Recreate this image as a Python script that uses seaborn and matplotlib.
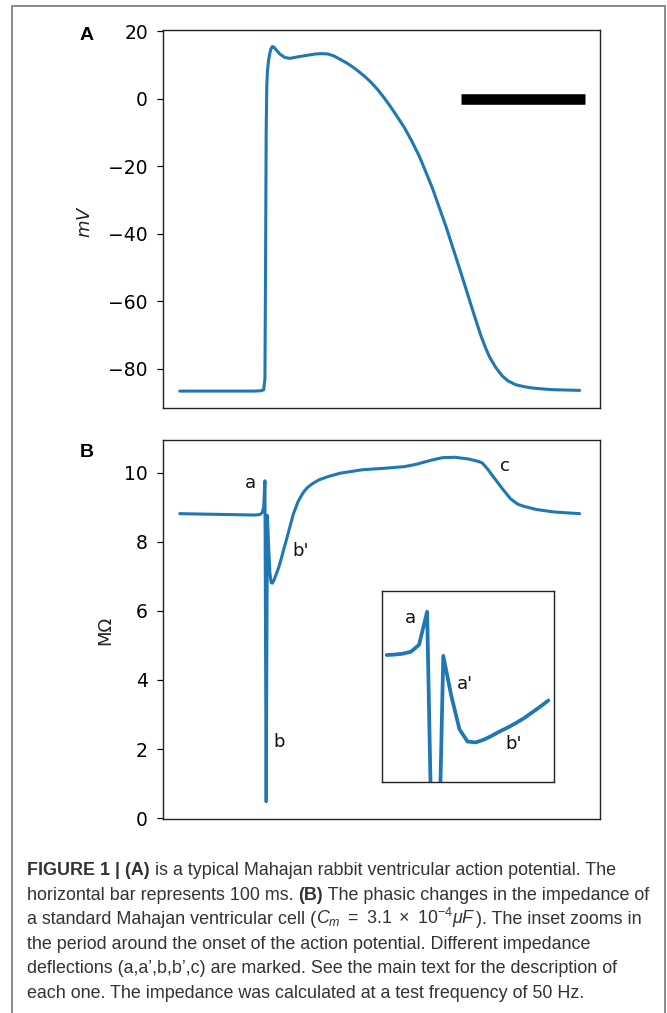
import numpy as np
import pandas as pd
import matplotlib
matplotlib.use("Agg")
import matplotlib.pyplot as plt
import seaborn as sns
from matplotlib.patches import Rectangle

# ---------------- data ----------------
# Panel A: action potential (ms, mV)
ap_time = [0, 30, 60, 66, 68, 69, 69.5, 70, 70.5, 71, 72, 73, 74, 75, 76, 78, 81, 85, 89,
           95, 103, 110, 115, 120, 125, 130, 135, 140, 145, 150, 155, 160, 165, 170, 175, 182,
           188, 194, 199, 205, 210, 216, 222, 228, 234, 239, 244, 248, 251, 256, 261, 266,
           272, 279, 286, 295, 303, 314, 324]
ap_mv = [-86.6, -86.6, -86.6, -86.5, -86.2, -83.0, -50.0, -10.0, 4.0, 8.0, 11.5, 13.5, 14.8,
         15.4, 15.3, 14.5, 13.2, 12.2, 11.9, 12.3, 12.8, 13.2, 13.3, 13.2, 12.6, 11.6, 10.6,
         9.4, 8.0, 6.5, 4.8, 2.8, 0.5, -2.0, -4.7, -8.6, -12.6, -17.0, -21.4, -26.8, -32.0,
         -38.2, -45.0, -51.8, -58.8, -64.6, -70.2, -74.0, -76.5, -79.6, -82.0, -83.6, -84.7,
         -85.3, -85.7, -86.0, -86.2, -86.3, -86.4]

# scale bar (100 ms) drawn at 0 mV
scalebar_time = [228, 328]
scalebar_mv = [0, 0]

# Panel B: impedance (ms, MOhm)
imp_time = [0, 30, 61,
            64, 65, 66, 67, 68, 69, 70, 71, 72, 73, 74, 75, 76, 77, 78, 79, 80, 81, 82, 83, 84,
            86, 89, 92, 96, 100, 103, 106, 109, 113, 120, 130, 148, 165, 182, 192, 203, 213,
            223, 234, 241, 245, 249, 254, 261, 268, 274, 279, 289, 303, 315, 324]
imp_mohm = [8.81, 8.79, 8.77,
            8.78, 8.79, 8.81, 8.855, 9.01, 9.76, 0.48, 8.76, 7.85, 7.10, 6.82, 6.80, 6.86, 6.95,
            7.05, 7.14, 7.24, 7.35, 7.48, 7.61, 7.75,
            8.0, 8.40, 8.8, 9.17, 9.42, 9.55, 9.64, 9.71, 9.79, 9.88, 9.98, 10.08, 10.12, 10.17,
            10.24, 10.35, 10.43, 10.44, 10.39, 10.33, 10.28, 10.12, 9.88, 9.55, 9.24, 9.08,
            9.02, 8.93, 8.86, 8.83, 8.81]

inset_window = [64, 84]

ap_ticks = [20, 0, -20, -40, -60, -80]
imp_ticks = [0, 2, 4, 6, 8, 10]

main_labels = [("a", 56.9, 9.69), ("b'", 97.6, 7.72), ("b", 80.3, 2.2), ("c", 263.7, 10.2)]
inset_labels = [("a", 66.9, 9.61), ("a'", 73.7, 8.12), ("b'", 79.75, 6.76)]

caption_lines = [
    [("FIGURE 1 | (A)", "bold"), (" is a typical Mahajan rabbit ventricular action potential. The", "normal")],
    [("horizontal bar represents 100 ms. ", "normal"), ("(B)", "bold"), (" The phasic changes in the impedance of", "normal")],
    [("a standard Mahajan ventricular cell (", "normal"), (r"$C_m\ =\ 3.1\ \times\ 10^{-4}\mu F$", "normal"), ("). The inset zooms in", "normal")],
    [("the period around the onset of the action potential. Different impedance", "normal")],
    [("deflections (a,a\u2019,b,b\u2019,c) are marked. See the main text for the description of", "normal")],
    [("each one. The impedance was calculated at a test frequency of 50 Hz.", "normal")],
]

# ---------------- style ----------------
sns.set_theme(style="ticks")
plt.rcParams["font.family"] = ["DejaVu Sans"]
plt.rcParams["mathtext.fontset"] = "custom"
plt.rcParams["mathtext.rm"] = "Liberation Sans"
plt.rcParams["mathtext.it"] = "Liberation Sans:italic"
plt.rcParams["mathtext.bf"] = "Liberation Sans:bold"

W, H = 667, 1013
fig = plt.figure(figsize=(W / 100, H / 100), dpi=100)
fig.patch.set_facecolor("white")

BLUE = "#1f77b4"
TICK_FS = 13.5


def ax_rect(x0, y0, x1, y1):
    return [x0 / W, 1 - y1 / H, (x1 - x0) / W, (y1 - y0) / H]


def style_axes(ax, ticks, fs=TICK_FS):
    ax.set_xticks([])
    ax.set_yticks(ticks)
    ax.tick_params(axis="y", labelsize=fs, length=4.5, width=0.9, colors="black",
                   direction="out", pad=6)
    for s in ax.spines.values():
        s.set_visible(True)
        s.set_color("#222222")
        s.set_linewidth(1.0)
    ax.set_xlabel("")
    ax.set_ylabel("")
    ax.set_facecolor("white")


xlim = (-14, 340.5)

# Panel A
axA = fig.add_axes(ax_rect(162.5, 30, 600, 408.3))
dfA = pd.DataFrame({"t": ap_time, "v": ap_mv})
sns.lineplot(data=dfA, x="t", y="v", ax=axA, color=BLUE, linewidth=2.2, sort=False)
axA.plot(scalebar_time, scalebar_mv, color="black", linewidth=7.6, solid_capstyle="butt")
axA.set_xlim(*xlim)
axA.set_ylim(-91.7, 20.3)
style_axes(axA, ap_ticks)

# Panel B
axB = fig.add_axes(ax_rect(162.5, 440, 600, 819))
dfB = pd.DataFrame({"t": imp_time, "z": imp_mohm})
sns.lineplot(data=dfB, x="t", y="z", ax=axB, color=BLUE, linewidth=2.2, sort=False)
axB.set_xlim(*xlim)
axB.set_ylim(-0.02, 10.94)
style_axes(axB, imp_ticks)
for txt, x, y in main_labels:
    axB.text(x, y, txt, fontsize=13, ha="center", va="center", color="#111111")

# Inset
axI = fig.add_axes(ax_rect(381.7, 591, 554.3, 781.7))
dfI = dfB[(dfB["t"] >= inset_window[0]) & (dfB["t"] <= inset_window[1])]
sns.lineplot(data=dfI, x="t", y="z", ax=axI, color=BLUE, linewidth=2.7, sort=False)
axI.set_xlim(63.38, 84.74)
axI.set_ylim(5.91, 10.23)
style_axes(axI, [])
for txt, x, y in inset_labels:
    axI.text(x, y, txt, fontsize=13, ha="center", va="center", color="#111111")

# axis labels and panel letters
fig.text(85 / W, 1 - 222 / H, "$mV$", rotation=90, ha="center", va="center",
         fontsize=13, math_fontfamily="dejavusans", color="#222222")
fig.text(105 / W, 1 - 630 / H, "M\u03a9", rotation=90, ha="center", va="center",
         fontsize=13, color="#222222")
fig.text(87 / W, 1 - 40 / H, "A", ha="center", va="baseline", fontsize=14,
         fontweight="bold", family=["Liberation Sans"], color="black")
fig.text(87 / W, 1 - 457 / H, "B", ha="center", va="baseline", fontsize=14,
         fontweight="bold", family=["Liberation Sans"], color="black")

# outer frame
fig.patches.append(Rectangle((12 / W, -0.02), (665 - 12) / W, 1 - 6 / H + 0.02,
                             transform=fig.transFigure, fill=False,
                             edgecolor="#808080", linewidth=1.3))

# caption
renderer = fig.canvas.get_renderer()
CAP_FS = 12.9
CAP_COLOR = "#333333"
baselines = [875, 899.5, 924, 948.5, 973, 997.5]
for yb, segs in zip(baselines, caption_lines):
    xpx = 27.0
    for txt, wt in segs:
        t = fig.text(xpx / W, 1 - yb / H, txt, fontsize=CAP_FS, fontweight=wt,
                     family=["Liberation Sans"], color=CAP_COLOR, ha="left",
                     va="baseline", math_fontfamily="custom")
        bb = t.get_window_extent(renderer)
        xpx = bb.x1

fig.savefig("out.png", dpi=100, facecolor="white")
